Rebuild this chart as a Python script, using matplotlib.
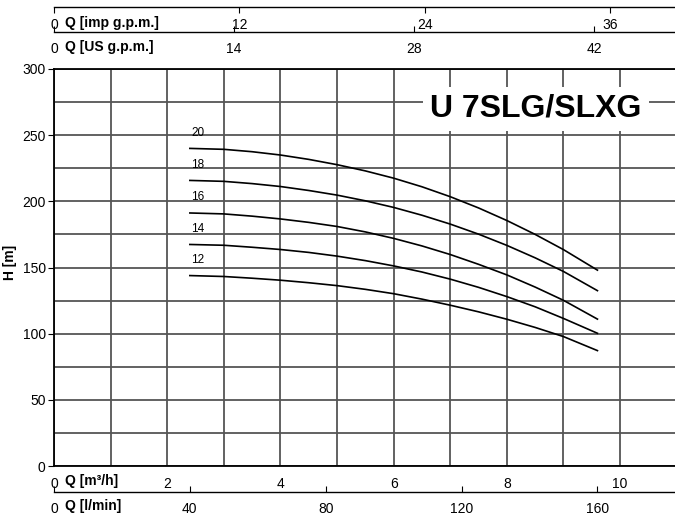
import matplotlib
matplotlib.use("Agg")
from matplotlib import pyplot as plt

plt.rcParams['font.family'] = ['Liberation Sans', 'DejaVu Sans']

# flow in m3/h, head in m (one list per stage count)
q = [2.4, 3, 3.5, 4, 4.5, 5, 5.5, 6, 6.5, 7, 7.5, 8, 8.5, 9, 9.6]
h_20 = [240, 239.3, 237.5, 235, 231.7, 227.7, 223, 217.5, 211, 203.5, 195, 185.5, 175, 163.5, 148]
h_18 = [215.8, 215.1, 213.4, 211.2, 208.2, 204.7, 200.4, 195.4, 189.5, 182.8, 175.2, 166.7, 157.3, 147, 132.5]
h_16 = [191.2, 190.5, 188.8, 186.7, 184.1, 181, 176.9, 172, 166.3, 159.8, 152.4, 144.4, 135.2, 125.2, 111]
h_14 = [167.4, 166.8, 165.3, 163.6, 161.4, 158.6, 155.2, 151.2, 146.6, 141.2, 135, 128, 120.3, 111.5, 100.3]
h_12 = [143.9, 143.2, 141.9, 140.4, 138.5, 136.3, 133.5, 130.2, 126.1, 121.5, 116.5, 110.9, 104.7, 97.8, 87.2]
curves = [("20", h_20), ("18", h_18), ("16", h_16), ("14", h_14), ("12", h_12)]

x_max = 10.97
m3h_ticks = [0, 2, 4, 6, 8, 10]
lmin_ticks = [0, 40, 80, 120, 160]
imp_ticks = [0, 12, 24, 36]
us_ticks = [0, 14, 28, 42]
h_ticks = [0, 50, 100, 150, 200, 250, 300]

LMIN = 1000 / 60.0
IMP = LMIN / 4.54609
USG = LMIN / 3.78541

W, H = 675, 519
GRID = '#555555'

fig = plt.figure(figsize=(W / 100, H / 100), dpi=100)
left, top, bottom = 54, 69, 466
ax = fig.add_axes([left / W, 1 - bottom / H, (W - left) / W, (bottom - top) / H])

for lab, hh in curves:
    ax.plot(q, hh, color='black', lw=1.2, zorder=3)
    ax.text(q[0] + 0.02, hh[0] + 12, lab, fontsize=8.5, ha='left', va='center', zorder=3)

ax.set_xlim(0, x_max)
ax.set_ylim(0, 300)
ax.set_xticks(m3h_ticks)
ax.set_xticks([1, 3, 5, 7, 9], minor=True)
ax.set_yticks(h_ticks)
ax.set_yticks([25, 75, 125, 175, 225, 275], minor=True)
ax.grid(True, which='both', color=GRID, lw=1.3, zorder=1)
ax.tick_params(axis='x', which='both', length=0, pad=8, labelsize=10)
ax.tick_params(axis='y', which='major', length=4, pad=2, labelsize=10)
ax.tick_params(axis='y', which='minor', length=0)
ax.spines['right'].set_visible(False)
for s in ['left', 'top', 'bottom']:
    ax.spines[s].set_linewidth(1.3)

ax.text(0.776, 0.9, "U 7SLG/SLXG", transform=ax.transAxes, fontsize=23,
        fontweight='bold', ha='center', va='center', zorder=4,
        bbox=dict(facecolor='white', edgecolor='none', pad=5))


def extra_axis(y_px, factor, ticks, tickdir, pad):
    a = fig.add_axes([left / W, 1 - y_px / H, (W - left) / W, 1e-4])
    a.set_xlim(0, x_max * factor)
    a.set_yticks([])
    a.set_xticks(ticks)
    a.patch.set_visible(False)
    for s in ['top', 'left', 'right']:
        a.spines[s].set_visible(False)
    a.spines['bottom'].set_linewidth(1.0)
    a.tick_params(axis='x', direction=tickdir, length=4, pad=pad, labelsize=10)
    return a


extra_axis(7, IMP, imp_ticks, 'out', 4)
extra_axis(32, USG, us_ticks, 'in', 7)
extra_axis(492, LMIN, lmin_ticks, 'in', 7)

lab_kw = dict(fontsize=10, fontweight='bold', ha='left', va='center')
fig.text(65 / W, 1 - 23 / H, "Q [imp g.p.m.]", **lab_kw)
fig.text(65 / W, 1 - 47 / H, "Q [US g.p.m.]", **lab_kw)
fig.text(65 / W, 1 - 481 / H, "Q [m³/h]", **lab_kw)
fig.text(65 / W, 1 - 506 / H, "Q [l/min]", **lab_kw)
fig.text(10 / W, 1 - 262 / H, "H [m]", rotation=90, fontsize=10,
         fontweight='bold', ha='center', va='center')

fig.savefig("out.png", dpi=100)
